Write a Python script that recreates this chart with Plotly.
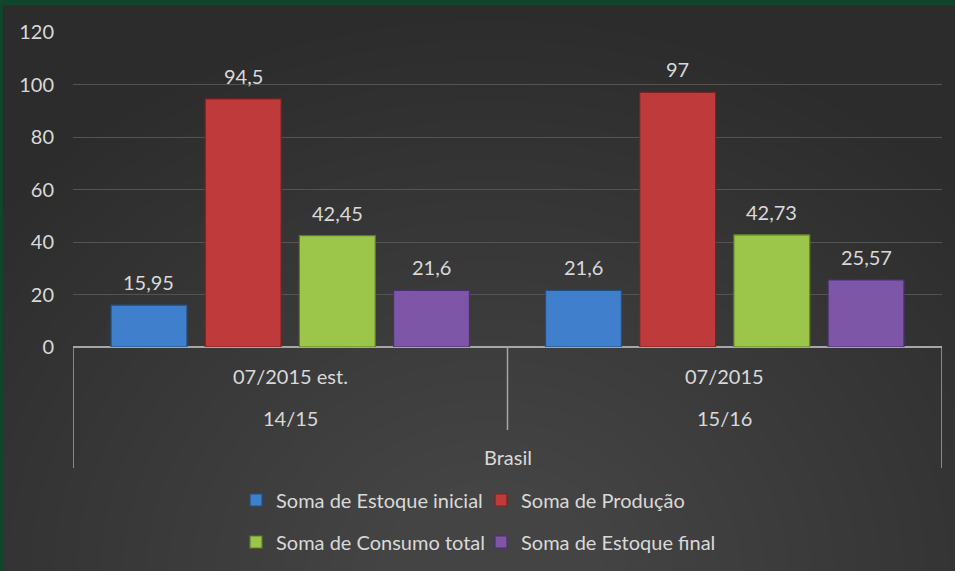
import plotly.graph_objects as go

# ---- data ----
periods = ["07/2015 est.", "07/2015"]
seasons = ["14/15", "15/16"]
region = "Brasil"
series_names = ["Soma de Estoque inicial", "Soma de Produção",
                "Soma de Consumo total", "Soma de Estoque final"]
estoque_inicial = [15.95, 21.6]
producao = [94.5, 97]
consumo_total = [42.45, 42.73]
estoque_final = [21.6, 25.57]
y_ticks = [0, 20, 40, 60, 80, 100, 120]

series_values = [estoque_inicial, producao, consumo_total, estoque_final]
colors = ["#3f7fcb", "#bf3a3a", "#9cc64a", "#7d56a8"]
edges = ["#23507f", "#7a2222", "#5f7d28", "#4a2f6a"]

W, H = 955, 571
ML, MR, MT, MB = 73, 13, 32, 224
PW, PH = W - ML - MR, H - MT - MB
BARGAP, BARGROUPGAP = 0.133, 0.194

def px_x(p):
    return (p - ML) / PW

def px_y(p):
    return (H - MB - p) / PH

def fmt(v):
    return f"{v:g}".replace(".", ",")

font_family = "Lato, 'Open Sans', sans-serif"
txt_col = "#d9d9d9"
FS = 20

fig = go.Figure()
annotations = []
n_series = len(series_names)
slot = (1 - BARGAP) / n_series
for i, (name, vals) in enumerate(zip(series_names, series_values)):
    fig.add_trace(go.Bar(
        x=periods, y=vals, name=name,
        marker=dict(color=colors[i], line=dict(color=edges[i], width=1.2)),
        legend="legend" if i < 2 else "legend2",
        hoverinfo="x+y+name",
    ))
    # data labels above each bar (positioned on the bar's axis coordinates)
    for c, v in enumerate(vals):
        annotations.append(dict(
            x=c + (i - (n_series - 1) / 2) * slot, xref="x", y=v, yref="y",
            text=fmt(v), showarrow=False, yanchor="bottom", yshift=9,
            font=dict(color=txt_col, size=FS, family=font_family)))

shapes = []
# soft radial lightening toward bottom centre
n_rings = 24
for k in range(n_rings):
    r = 560 - k * 20
    cx, cy = 490, 580
    shapes.append(dict(type="circle", xref="paper", yref="paper",
                       x0=px_x(cx - r * 1.15), x1=px_x(cx + r * 1.15),
                       y0=px_y(cy + r), y1=px_y(cy - r),
                       fillcolor="rgba(255,255,255,0.0068)", line=dict(width=0),
                       layer="below"))
# green frame on top and left edges
shapes.append(dict(type="rect", xref="paper", yref="paper",
                   x0=px_x(-2), x1=px_x(W + 2), y0=px_y(-2), y1=px_y(5),
                   fillcolor="#11452b", line=dict(width=0), layer="below"))
shapes.append(dict(type="rect", xref="paper", yref="paper",
                   x0=px_x(-2), x1=px_x(3), y0=px_y(-2), y1=px_y(H + 2),
                   fillcolor="#11452b", line=dict(width=0), layer="below"))

# category divider lines (multi-level axis)
line_col = "#a6a6a6"
shapes.append(dict(type="line", xref="x", yref="paper", x0=-0.5, x1=-0.5,
                   y0=0, y1=px_y(468), line=dict(color=line_col, width=1.5)))
shapes.append(dict(type="line", xref="x", yref="paper", x0=0.5, x1=0.5,
                   y0=0, y1=px_y(430), line=dict(color=line_col, width=1.5)))
shapes.append(dict(type="line", xref="x", yref="paper", x0=1.5, x1=1.5,
                   y0=0, y1=px_y(468), line=dict(color=line_col, width=1.5)))

for p, s in zip(periods, seasons):
    annotations.append(dict(x=p, xref="x", yref="paper", y=px_y(376), text=p,
                            yanchor="middle", showarrow=False,
                            font=dict(color=txt_col, size=FS, family=font_family)))
    annotations.append(dict(x=p, xref="x", yref="paper", y=px_y(418), text=s,
                            yanchor="middle", showarrow=False,
                            font=dict(color=txt_col, size=FS, family=font_family)))
annotations.append(dict(x=0.5, xref="x", yref="paper", y=px_y(457), text=region,
                        yanchor="middle", showarrow=False,
                        font=dict(color=txt_col, size=FS, family=font_family)))

legend_common = dict(orientation="h", font=dict(color=txt_col, size=FS, family=font_family),
                     bgcolor="rgba(0,0,0,0)", entrywidth=200, entrywidthmode="pixels",
                     itemwidth=30, xanchor="left", yanchor="middle", traceorder="normal")

fig.update_layout(
    width=W, height=H,
    margin=dict(l=ML, r=MR, t=MT, b=MB, autoexpand=False),
    paper_bgcolor="#2c2c2c", plot_bgcolor="rgba(0,0,0,0)",
    barmode="group", bargap=BARGAP, bargroupgap=BARGROUPGAP,
    showlegend=True,
    legend=dict(x=px_x(236), y=px_y(500), **legend_common),
    legend2=dict(x=px_x(236), y=px_y(542), **legend_common),
    xaxis=dict(showticklabels=False, showgrid=False, zeroline=False,
               showline=False, ticks="", range=[-0.5, 1.5]),
    yaxis=dict(range=[0, 120], tickvals=y_ticks, showgrid=True,
               gridcolor="#545454", gridwidth=1, zeroline=True,
               zerolinecolor=line_col, zerolinewidth=1.5, ticks="",
               tickfont=dict(color=txt_col, size=FS, family=font_family),
               ticklabelstandoff=18),
    shapes=shapes, annotations=annotations,
    font=dict(family=font_family, color=txt_col),
)

fig.write_html("out.html", config={"displayModeBar": False},
               post_script="document.body.style.margin='0';document.body.style.overflow='hidden';")
